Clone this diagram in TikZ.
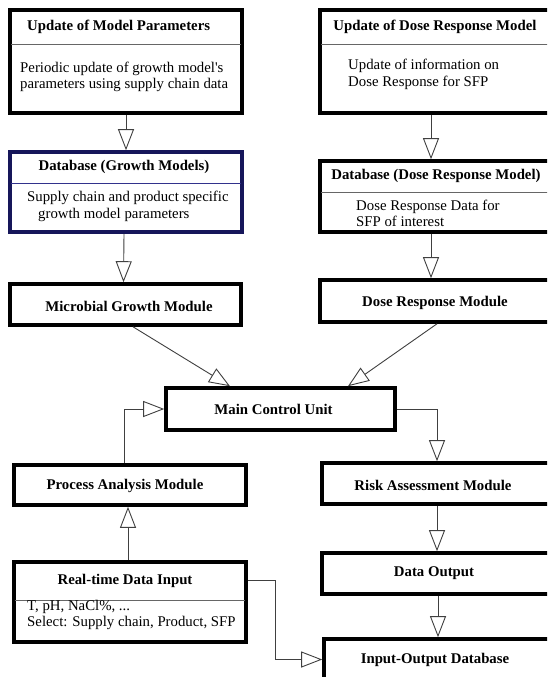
\documentclass[tikz,border=0pt]{standalone}
\usepackage{fontspec}
\setmainfont{Liberation Serif}
\usetikzlibrary{arrows.meta}
\definecolor{navyc}{RGB}{22,22,90}
\definecolor{navysep}{RGB}{50,50,140}
\begin{document}
\begin{tikzpicture}[x=1pt,y=-1pt,
  box/.style={draw=black, line width=3.6pt, rectangle, inner sep=0pt, fill=white},
  navybox/.style={box, draw=navyc},
  sepline/.style={draw=black!60, line width=0.9pt, shorten <=3pt, shorten >=3pt},
  hd/.style={font=\fontsize{14.8}{16.5}\selectfont\bfseries, inner sep=0pt},
  bd/.style={font=\fontsize{14.8}{16.5}\selectfont, inner sep=0pt, align=left, anchor=west},
  arr/.style={draw=black!75, line width=0.9pt, -{Triangle[open, length=21pt, width=16pt, line width=0.9pt]}},
]
\clip (0,0) rectangle (547,677);
\fill[white] (0,0) rectangle (547,677);

% ---- boxes ----
\node[box, minimum width=232pt, minimum height=103pt] (b1) at (126,61.5) {};
\node[navybox, minimum width=232pt, minimum height=80pt] (b2) at (126,192) {};
\node[box, minimum width=231pt, minimum height=41pt] (b3) at (125.5,304.5) {};
\node[box, minimum width=232pt, minimum height=103pt] (r1) at (436,61.5) {};
\node[box, minimum width=232pt, minimum height=71pt] (r2) at (436,196.5) {};
\node[box, minimum width=232pt, minimum height=42pt] (r3) at (436,301) {};
\node[box, minimum width=229pt, minimum height=42pt] (mcu) at (280.5,409) {};
\node[box, minimum width=232pt, minimum height=40pt] (pam) at (130,485) {};
\node[box, minimum width=230pt, minimum height=41pt] (ram) at (437,483.5) {};
\node[box, minimum width=232pt, minimum height=80pt] (rdi) at (130,602) {};
\node[box, minimum width=230pt, minimum height=41pt] (do) at (437,573.5) {};
\node[box, minimum width=228pt, minimum height=41pt] (iod) at (438,659.5) {};

% ---- separators ----
\draw[sepline] (b1.west |- 0,44) -- (b1.east |- 0,44);
\draw[sepline, draw=navysep] (b2.west |- 0,183) -- (b2.east |- 0,183);
\draw[sepline] (r1.west |- 0,44) -- (r1.east |- 0,44);
\draw[sepline] (r2.west |- 0,192) -- (r2.east |- 0,192);
\draw[sepline] (rdi.west |- 0,600) -- (rdi.east |- 0,600);

% ---- texts ----
\node[hd, anchor=west] (t1) at (27,27) {Update of Model Parameters};
\node[bd] (t1b) at (20,77) {Periodic update of growth model\textquotesingle s\\parameters using supply chain data};
\node[hd] (t2) at (124,167) {Database (Growth Models)};
\node[bd] (t2b) at (27,198) {Supply chain and product specific};
\node[bd] (t2c) at (38,215) {growth model parameters};
\node[hd] (t3) at (129,306) {Microbial Growth Module};
\node[hd] (u1) at (435,27) {Update of Dose Response Model};
\node[bd] (u1b) at (348,74.5) {Update of information on\\Dose Response for SFP};
\node[hd] (u2) at (436,176) {Database (Dose Response Model)};
\node[bd] (u2b) at (356,213.5) {Dose Response Data for\\SFP of interest};
\node[hd] (u3) at (435,303) {Dose Response Module};
\node[hd] (tm) at (273.5,409) {Main Control Unit};
\node[hd] (tp) at (125,486) {Process Analysis Module};
\node[hd] (tr) at (433,485) {Risk Assessment Module};
\node[hd] (td) at (125,581) {Real-time Data Input};
\node[bd] (tdb) at (27,615) {T, pH, NaCl\%, ...\\Select: Supply chain, Product, SFP};
\node[hd] (to) at (434,573) {Data Output};
\node[hd] (ti) at (435,660) {Input-Output Database};

% ---- connectors ----
\draw[arr] (b1.south) -- (b2.north);
\draw[arr] ([xshift=-2pt]b2.south) -- ([xshift=-2pt]b3.north);
\draw[arr] ([xshift=7.5pt]b3.south) -- ([xshift=-50.5pt]mcu.north);
\draw[arr] ([xshift=-5pt]r1.south) -- ([xshift=-5pt]r2.north);
\draw[arr] ([xshift=-5pt]r2.south) -- ([xshift=-5pt]r3.north);
\draw[arr] ([xshift=1pt]r3.south) -- ([xshift=67.5pt]mcu.north);
\draw[arr] ([xshift=-6pt]pam.north) |- (mcu.west);
\draw[arr] ([xshift=-2pt]rdi.north) -- ([xshift=-2pt]pam.south);
\draw[arr] (mcu.east) -| (ram.north);
\draw[arr] (ram.south) -- (do.north);
\draw[arr] ([xshift=1pt]do.south) -- ([xshift=1pt]do.south |- iod.north);
\coordinate (bend) at (275,580);
\draw[arr] ([yshift=22pt]rdi.east) -- (bend) |- (iod.west);
\end{tikzpicture}
\end{document}
